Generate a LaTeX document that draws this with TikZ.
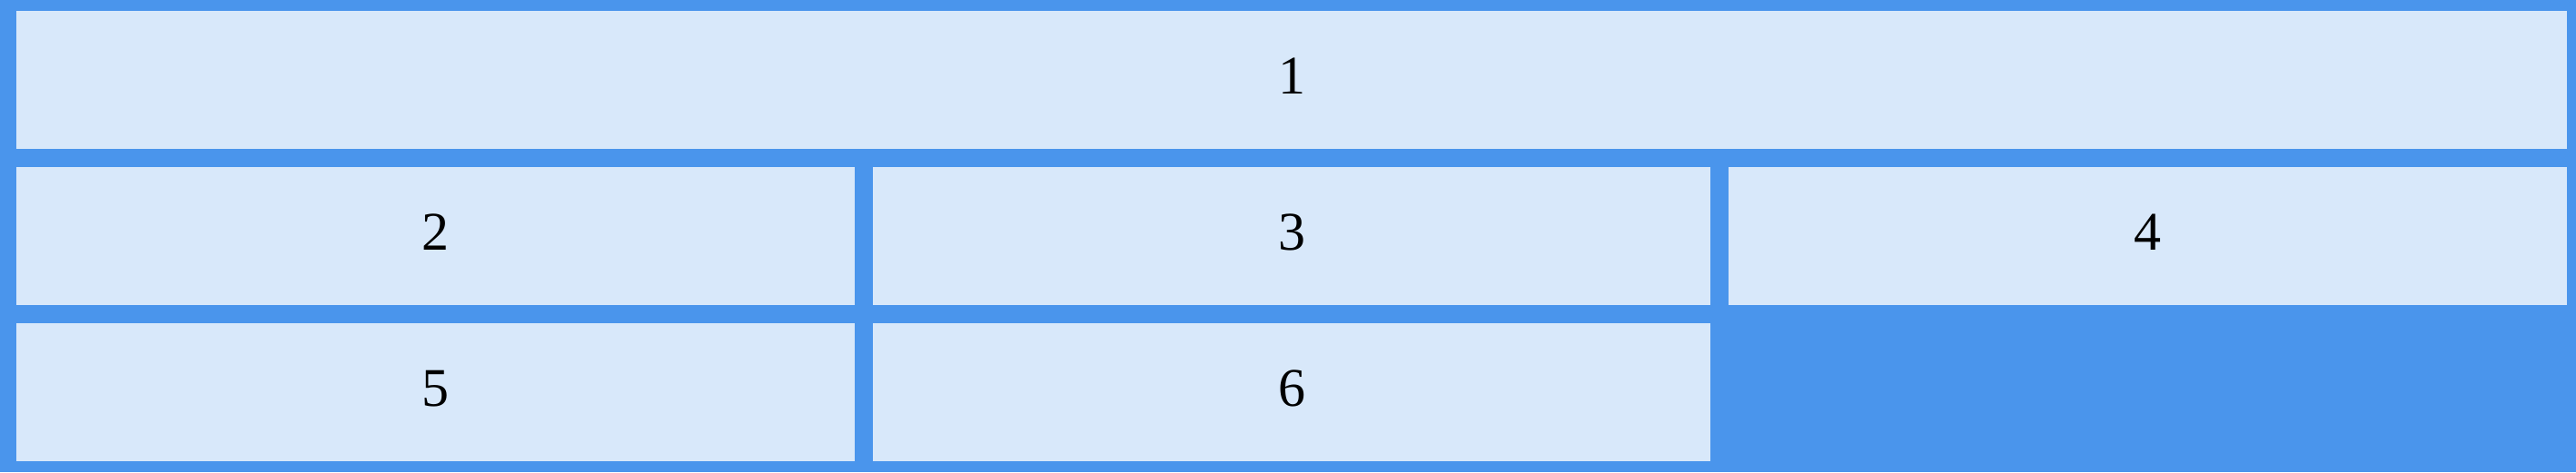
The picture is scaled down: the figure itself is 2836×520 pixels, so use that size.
\documentclass[tikz,border=0pt]{standalone}
\usepackage{fontspec}
\setmainfont{Liberation Serif}
\usetikzlibrary{positioning}

\definecolor{gridblue}{RGB}{74,149,236}
\definecolor{cellfill}{RGB}{216,232,250}

\begin{document}
\begin{tikzpicture}[
  x=1pt, y=1pt,
  cell/.style = {fill=cellfill, anchor=north west, inner sep=0pt, outer sep=0pt,
                 minimum height=152pt, text height=41pt, text depth=11pt,
                 font=\fontsize{60}{70}\selectfont},
  third/.style = {cell, minimum width=923pt},
  wide/.style = {cell, minimum width=2808pt}
]

  % frame
  \fill[gridblue] (0,0) rectangle (2836,-520);
  \useasboundingbox (0,0) rectangle (2836,-520);

  % row 1
  \node[wide] (c1) at (18,-12) {1};

  % row 2
  \node[third] (c2) at (18,-184) {2};
  \node[third, minimum width=922pt] (c3) at (961,-184) {3};
  \node[third] (c4) at (1903,-184) {4};

  % row 3
  \node[third] (c5) at (18,-356) {5};
  \node[third, minimum width=922pt] (c6) at (961,-356) {6};

\end{tikzpicture}
\end{document}
